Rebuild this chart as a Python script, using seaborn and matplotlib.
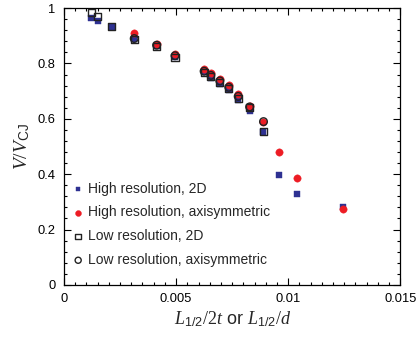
import numpy as np
import pandas as pd
import matplotlib
matplotlib.use("Agg")
import matplotlib.pyplot as plt
import seaborn as sns
from matplotlib.ticker import MultipleLocator

# data
x_hi2d = [0.00121, 0.00151, 0.00212, 0.00313, 0.00413, 0.00495, 0.00625, 0.00655, 0.00695, 0.00735, 0.00777, 0.00828, 0.0089, 0.00957, 0.01039, 0.01247]
y_hi2d = [0.965, 0.955, 0.933, 0.890, 0.862, 0.822, 0.768, 0.748, 0.727, 0.703, 0.668, 0.630, 0.551, 0.397, 0.327, 0.283]
x_hiax = [0.00313, 0.00413, 0.00495, 0.00625, 0.00655, 0.00695, 0.00735, 0.00777, 0.00828, 0.0089, 0.00957, 0.01039, 0.01247]
y_hiax = [0.911, 0.870, 0.836, 0.779, 0.764, 0.744, 0.722, 0.690, 0.648, 0.590, 0.480, 0.386, 0.275]
x_lo2d = [0.00121, 0.00151, 0.00212, 0.00313, 0.00413, 0.00495, 0.00625, 0.00655, 0.00695, 0.00735, 0.00777, 0.00828, 0.0089]
y_lo2d = [0.985, 0.970, 0.935, 0.888, 0.862, 0.822, 0.768, 0.752, 0.732, 0.708, 0.675, 0.640, 0.553]
x_loax = [0.00313, 0.00413, 0.00495, 0.00625, 0.00655, 0.00695, 0.00735, 0.00777, 0.00828, 0.0089]
y_loax = [0.890, 0.866, 0.828, 0.772, 0.757, 0.737, 0.714, 0.681, 0.643, 0.590]

labels = ["High resolution, 2D", "High resolution, axisymmetric",
          "Low resolution, 2D", "Low resolution, axisymmetric"]
xticks = [0, 0.005, 0.01, 0.015]
xticklabels = ['0', '0.005', '0.01', '0.015']
yticks = [0, 0.2, 0.4, 0.6, 0.8, 1.0]
yticklabels = ['0', '0.2', '0.4', '0.6', '0.8', '1']

sns.set_theme(style="ticks")
plt.rcParams['font.family'] = ['Liberation Sans', 'DejaVu Sans']
plt.rcParams['mathtext.fontset'] = 'custom'
plt.rcParams['mathtext.it'] = 'Liberation Serif:italic'
plt.rcParams['mathtext.rm'] = 'Liberation Serif'
plt.rcParams['mathtext.sf'] = 'Liberation Sans'

fig = plt.figure(figsize=(4.16, 3.38), dpi=100)
ax = fig.add_axes([0.154, 0.157, 0.808, 0.819])

blue = '#2e3192'
red = '#ed1c24'

sns.scatterplot(x=x_hi2d, y=y_hi2d, ax=ax, marker='s', s=16, color=blue,
                edgecolor=blue, linewidth=0.3, label=labels[0], zorder=3)
sns.scatterplot(x=x_hiax, y=y_hiax, ax=ax, marker='o', s=28, color=red,
                edgecolor=red, linewidth=0.3, label=labels[1], zorder=3)
sns.scatterplot(x=x_lo2d, y=y_lo2d, ax=ax, marker='s', s=26, facecolor='none',
                edgecolor='#222222', linewidth=1.0, label=labels[2], zorder=4)
sns.scatterplot(x=x_loax, y=y_loax, ax=ax, marker='o', s=30, facecolor='none',
                edgecolor='#222222', linewidth=1.0, label=labels[3], zorder=4)

ax.set_xticks(xticks)
ax.set_xticklabels(xticklabels)
ax.set_yticks(yticks)
ax.set_yticklabels(yticklabels)
ax.xaxis.set_minor_locator(MultipleLocator(0.0005))
ax.yaxis.set_minor_locator(MultipleLocator(0.04))
ax.set_xlim(0, 0.015)
ax.set_ylim(0, 1)
ax.tick_params(which='both', direction='in', top=True, right=True, width=0.8,
               labelsize=9.3, colors='black')
ax.tick_params(which='major', length=5, pad=6)
ax.tick_params(which='minor', length=2.5)
for sp in ax.spines.values():
    sp.set_linewidth(0.9)
    sp.set_color('black')

ax.set_xlabel(r'$L_{\mathsf{1/2}}/2t$ or $L_{\mathsf{1/2}}/d$', fontsize=13, labelpad=3)
ax.set_ylabel(r'$V/V_{\mathsf{CJ}}$', fontsize=14, labelpad=4)

leg = ax.legend(loc='lower left', bbox_to_anchor=(-0.02, 0.02), frameon=False,
                fontsize=10, handletextpad=0.1, labelspacing=0.70,
                handlelength=1.2, markerscale=0.8)

fig.savefig('out.png', dpi=100)
